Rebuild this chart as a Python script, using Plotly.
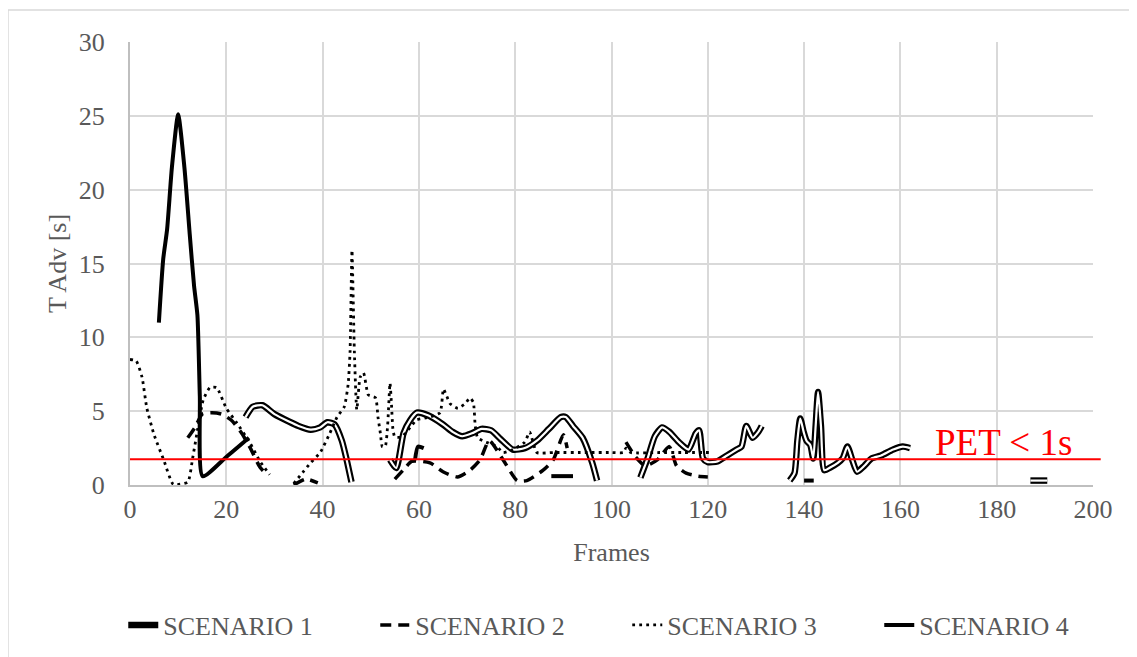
import plotly.graph_objects as go

# ---------------- data (None = gap between segments) ----------------
s1_x = [24, 25.5, 27.5, 30, 33, 35, 37.5, 39.5, 41, 42.5, 44, 45, 46, None,
        54, 55.3, 56.8, 58.2, 59.6, 62, 65, 67, 69, 71, 73, 75, 77, 79.5, 82, 84.5, 87, 89.5, 90.5, 92, 94, 96, 97, None,
        106, 107.5, 109, 110.5, 112, 114, 116, 117.5, 118.2, 119, 120, 122, 124, 126, 127, 128, 129.3, 130.5, 131.2, None,
        137, 138, 138.6, 139.2, 139.9, 140.5, 141.3, 141.9, 142.4, 142.9, 143.5, 144.2, 145.5, 147, 148, 149, 150, 151,
        152.5, 154, 156, 158.5, 160.5, 162, None,
        187, 190.5]
s1_y = [4.6, 5.3, 5.4, 4.8, 4.3, 4.0, 3.75, 3.9, 4.25, 4.1, 3.0, 1.7, 0.2, None,
        1.7, 1.15, 3.5, 4.4, 4.9, 4.7, 4.1, 3.6, 3.3, 3.5, 3.8, 3.7, 3.1, 2.4, 2.5, 3.0, 3.8, 4.6, 4.6, 4.0, 3.2, 1.5, 0.3, None,
        0.5, 1.8, 3.3, 3.9, 3.6, 2.9, 2.4, 3.5, 3.7, 1.8, 1.55, 1.6, 2.0, 2.4, 2.6, 4.0, 3.2, 3.6, 4.0, None,
        0.3, 0.8, 3.0, 4.5, 3.6, 3.0, 2.7, 1.8, 4.0, 6.3, 4.0, 1.0, 1.2, 1.5, 1.8, 2.6, 1.7, 0.9,
        1.3, 1.8, 2.0, 2.4, 2.6, 2.5, None,
        0.3, 0.3]

s2_x = [12, 13.5, 15, 17, 19, 21, 23, 25, 27, 28.5, None,
        34, 36.5, 39, None,
        55, 57, 58.5, 62.3, 65, 68, 70.6, 72.7, 74.6, 77.5, 80.4, 82.4, 85.8, 87.9, 90, 90.8, None,
        103, 105, 107, 109.5, 112, 113.5, 115.5, 118, 120]
s2_y = [3.2, 3.9, 4.8, 4.9, 4.8, 4.4, 3.6, 2.5, 1.2, 0.7, None,
        0.0, 0.4, 0.15, None,
        0.4, 1.1, 1.6, 1.5, 0.9, 0.55, 1.0, 1.7, 3.0, 1.7, 0.3, 0.3, 1.0, 1.7, 3.4, 2.5, None,
        2.9, 1.9, 1.3, 1.7, 2.6, 1.3, 0.8, 0.6, 0.55]

s3_x = [0, 1.3, 2.5, 3.5, 5, 7, 9, 12, 13, 13.9, 15.2, 16.6, 18, 20, 22.2, 25, 27, 29, None,
        34, 36, 37.5, 39.5, 41.5, 43, 44.5, 45.3, 45.7, 46.1, 46.6, 47.1, 47.8, 48.5, 49.5, 51, 51.5, 52, 52.4,
        53, 53.5, 54, 54.3, 54.6, 55, 56.4, 58.2, 59.5, 62.3, 64.4, 65.1, 65.8, 66.5, 68.1, 69.6, 70.6, 71.3,
        71.7, 72.2, 74, 76.2, 77.5, 79.5, 82, 83, 84.5, 88, 95, 100, 102.5, 103, 104, 110, 115, 121]
s3_y = [8.5, 8.4, 7.3, 5.2, 3.4, 1.7, 0.05, 0.2, 1.8, 3.5, 5.75, 6.6, 6.6, 5.2, 4.2, 2.8, 1.6, 0.7, None,
        0.1, 0.9, 1.5, 2.2, 3.5, 4.6, 5.3, 6.8, 9.0, 15.9, 9.0, 5.1, 7.3, 7.6, 6.1, 5.9, 4.6, 3.5, 2.6,
        2.6, 4.0, 6.9, 5.5, 3.8, 3.25, 3.25, 3.9, 4.4, 4.6, 4.9, 6.5, 6.0, 5.5, 5.2, 5.5, 5.9, 5.6,
        4.0, 3.2, 2.9, 2.6, 2.2, 2.4, 2.9, 3.6, 2.2, 2.2, 2.2, 2.2, 2.2, 2.5, 2.2, 2.2, 2.2, 2.2]

s4_x = [6, 6.9, 7.7, 8.7, 10, 11.3, 12.4, 13.3, 14.0, 14.5, 15.1, 20, 24.7, None,
        59.2, 59.8, 61, None,
        87.5, 92, None,
        140, 142]
s4_y = [11.0, 15.3, 17.3, 21.5, 25.1, 21.5, 17.0, 13.5, 11.5, 6.0, 0.6, 1.9, 3.2, None,
        1.7, 2.6, 2.5, None,
        0.6, 0.6, None,
        0.3, 0.3]

x_ticks = [0, 20, 40, 60, 80, 100, 120, 140, 160, 180, 200]
y_ticks = [0, 5, 10, 15, 20, 25, 30]
pet_threshold = 1.75
pet_label = "PET < 1s"
series_names = ["SCENARIO 1", "SCENARIO 2", "SCENARIO 3", "SCENARIO 4"]

# ---------------- figure ----------------
FONT = "Liberation Serif, Times New Roman, serif"
GREY = "#595959"

fig = go.Figure()
fig.add_trace(go.Scatter(x=s1_x, y=s1_y, mode="lines", name=series_names[0],
                         line=dict(color="black", width=6.5, shape="spline", smoothing=0.6),
                         connectgaps=False))
fig.add_trace(go.Scatter(x=s1_x, y=s1_y, mode="lines", showlegend=False, hoverinfo="skip",
                         line=dict(color="white", width=2.2, shape="spline", smoothing=0.6),
                         connectgaps=False))
fig.add_trace(go.Scatter(x=s2_x, y=s2_y, mode="lines", name=series_names[1],
                         line=dict(color="black", width=3.5, dash="11px,7px", shape="spline", smoothing=0.6),
                         connectgaps=False))
fig.add_trace(go.Scatter(x=s3_x, y=s3_y, mode="lines", name=series_names[2],
                         line=dict(color="black", width=2.8, dash="2.8px,4.2px", shape="spline", smoothing=0.5),
                         connectgaps=False))
fig.add_trace(go.Scatter(x=s4_x, y=s4_y, mode="lines", name=series_names[3],
                         line=dict(color="black", width=4, shape="spline", smoothing=0.6),
                         connectgaps=False))

# PET threshold line
fig.add_shape(type="line", xref="paper", yref="y", x0=0, x1=1.008,
              y0=pet_threshold, y1=pet_threshold, line=dict(color="#ff0000", width=2))
fig.add_annotation(x=181.5, y=pet_threshold, xref="x", yref="y", text=pet_label,
                   showarrow=False, yanchor="bottom", yshift=-6,
                   font=dict(family=FONT, size=37, color="#ff0000"))

# outer chart border (left/top visible)
fig.add_shape(type="rect", xref="paper", yref="paper", x0=-0.1267, x1=1.08, y0=-0.42, y1=1.0722,
              line=dict(color="#d9d9d9", width=1.5), fillcolor="rgba(0,0,0,0)", layer="below")

fig.update_layout(
    width=1137, height=657,
    margin=dict(l=122, r=52, t=34, b=180, autoexpand=False),
    paper_bgcolor="white", plot_bgcolor="white",
    font=dict(family=FONT, size=26, color=GREY),
    showlegend=True,
    legend=dict(orientation="h", x=-0.007, xanchor="left", y=-0.316, yanchor="middle",
                font=dict(family=FONT, size=26, color=GREY),
                entrywidth=207, entrywidthmode="pixels",
                bgcolor="rgba(0,0,0,0)"),
)
fig.update_xaxes(range=[0, 200], tickvals=x_ticks, ticktext=[str(v) for v in x_ticks],
                 showgrid=True, gridcolor="#d9d9d9", gridwidth=2,
                 showline=True, linecolor="#bfbfbf", linewidth=2, zeroline=False,
                 ticks="", tickfont=dict(family=FONT, size=26, color=GREY),
                 title=dict(text="Frames", standoff=20, font=dict(family=FONT, size=26, color=GREY)))
fig.update_yaxes(range=[0, 30], tickvals=y_ticks, ticktext=[str(v) for v in y_ticks],
                 showgrid=True, gridcolor="#d9d9d9", gridwidth=2,
                 showline=True, linecolor="#bfbfbf", linewidth=2, zeroline=False,
                 ticks="", ticklabelstandoff=18, tickfont=dict(family=FONT, size=26, color=GREY),
                 title=dict(text="T Adv [s]", standoff=5, font=dict(family=FONT, size=26, color=GREY)))

fig.write_html("out.html")
